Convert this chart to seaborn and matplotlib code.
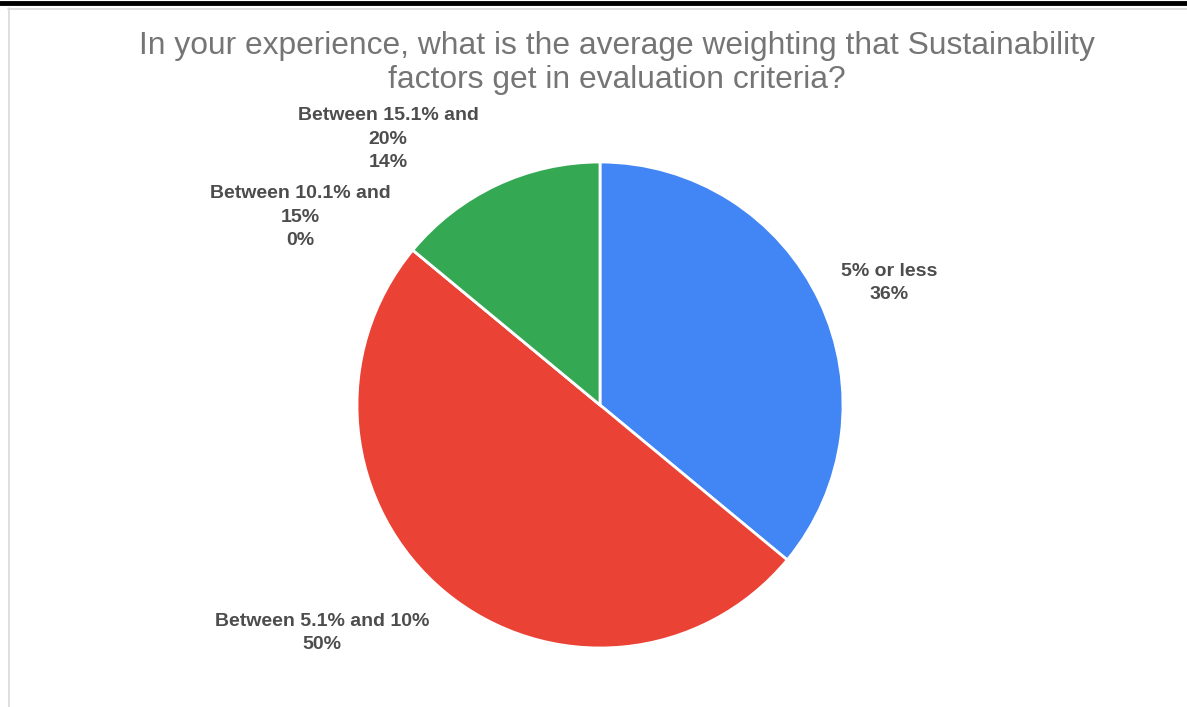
#!/usr/bin/env python3
# -*- coding: utf-8 -*-

"""
Pie chart: average weighting of sustainability factors in evaluation criteria
"""

import matplotlib
matplotlib.use('Agg')
import matplotlib.pyplot as plt
from matplotlib.lines import Line2D
import seaborn as sns

# data
categories = ['5% or less', 'Between 5.1% and 10%', 'Between 10.1% and 15%', 'Between 15.1% and 20%']
shares = [36, 50, 0, 14]
colors = ['#4285F4', '#EA4335', '#FBBC04', '#34A853']
label_texts = ['5% or less\n36%', 'Between 5.1% and 10%\n50%',
               'Between 10.1% and\n15%\n0%', 'Between 15.1% and\n20%\n14%']

W, H = 1187, 707


def set_style():
    sns.set_theme(style='white')
    plt.rcParams['font.family'] = ['Liberation Sans', 'DejaVu Sans']


def main():
    set_style()
    fig = plt.figure(figsize=(W / 100, H / 100), dpi=100)
    fig.patch.set_facecolor('white')

    # page remnants: black rule at top, light chart frame
    fig.add_artist(Line2D([0, 1], [1 - 2.5 / H, 1 - 2.5 / H], color='black', lw=3.5))
    fig.add_artist(Line2D([8 / W, 1], [1 - 8.5 / H, 1 - 8.5 / H], color='#d9d9d9', lw=1.2))
    fig.add_artist(Line2D([8.5 / W, 8.5 / W], [0, 1 - 8 / H], color='#d9d9d9', lw=1.2))

    # pie axes: centre (600, 405) px, radius 243 px
    cx, cy, r = 600, 405, 243
    ax = fig.add_axes([(cx - r) / W, (H - cy - r) / H, 2 * r / W, 2 * r / H])
    ax.pie(shares, colors=colors, startangle=90, counterclock=False,
           wedgeprops=dict(edgecolor='white', linewidth=2))
    ax.set_xlim(-1, 1)
    ax.set_ylim(-1, 1)
    ax.set_axis_off()

    fig.text(617 / W, 1 - 63 / H,
             'In your experience, what is the average weighting that Sustainability\n'
             'factors get in evaluation criteria?',
             ha='center', va='center', color='#757575', fontsize=22.9, linespacing=1.15)

    # label centres in pixels
    label_pos = [(889, 283), (322, 633), (300, 217), (388, 139)]
    for txt, (x, y) in zip(label_texts, label_pos):
        fig.text(x / W, 1 - y / H, txt, ha='center', va='center',
                 color='#4d4d4d', fontsize=14, fontweight='bold', linespacing=1.52)

    fig.savefig('out.png', dpi=100)
    plt.close(fig)


if __name__ == '__main__':
    main()
